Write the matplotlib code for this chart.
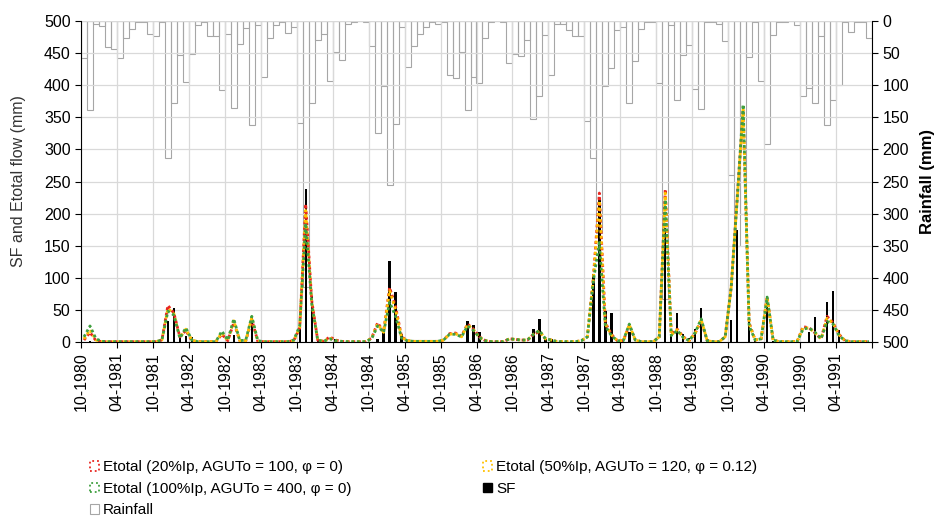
import numpy as np
import matplotlib.pyplot as plt
from matplotlib.patches import Patch

plt.rcParams["font.family"] = ["Liberation Sans", "DejaVu Sans"]

# monthly series, Oct-1980 .. Sep-1991 (one row = one Oct-Sep year)
rainfall = [
    57, 138, 5, 8, 41, 44, 58, 27, 12, 1, 1, 21,
    23, 1, 214, 127, 53, 95, 51, 6, 2, 23, 23, 108,
    21, 136, 36, 11, 162, 6, 87, 27, 7, 1, 19, 9,
    159, 414, 127, 30, 21, 94, 49, 60, 5, 1, 0, 1,
    39, 175, 102, 255, 160, 9, 71, 39, 21, 9, 2, 5,
    2, 84, 89, 48, 138, 87, 96, 27, 1, 0, 1, 66,
    51, 54, 29, 153, 117, 22, 84, 5, 4, 14, 23, 23,
    156, 214, 330, 102, 73, 14, 10, 128, 62, 12, 1, 1,
    97, 433, 6, 123, 53, 38, 106, 137, 2, 1, 4, 31,
    240, 350, 300, 56, 1, 94, 191, 22, 1, 1, 0, 6,
    117, 105, 128, 24, 162, 123, 100, 1, 17, 1, 1, 27,
]

sf = [
    0, 2, 0, 0, 0, 0, 0, 0, 0, 0, 0, 0,
    0, 0, 32, 53, 6, 10, 8, 0, 0, 0, 0, 0,
    0, 11, 0, 0, 40, 0, 0, 0, 0, 0, 0, 0,
    21, 239, 72, 3, 0, 0, 4, 0, 0, 0, 0, 0,
    0, 4, 21, 126, 78, 12, 2, 0, 0, 0, 0, 0,
    0, 0, 0, 0, 33, 26, 15, 0, 0, 0, 0, 0,
    0, 0, 0, 21, 36, 5, 5, 0, 0, 0, 0, 0,
    0, 106, 224, 48, 45, 0, 0, 16, 0, 0, 0, 0,
    0, 177, 9, 45, 12, 6, 21, 53, 7, 0, 0, 0,
    34, 174, 0, 37, 3, 0, 71, 2, 0, 0, 0, 0,
    0, 15, 39, 0, 62, 79, 19, 0, 0, 0, 0, 0,
]

etotal_20 = [
    3, 15, 2, 0.5, 0.5, 0.5, 0.5, 0.5, 0.5, 0.5, 0.5, 0.5,
    0.5, 3, 57, 45, 8, 18, 2, 0.5, 0.5, 0.5, 0.5, 12,
    2, 30, 2, 2, 35, 1, 0.5, 0.5, 0.5, 0.5, 0.5, 2,
    22, 215, 65, 3, 1, 8, 3, 1, 0.5, 0.5, 0.5, 0.5,
    6, 30, 16, 85, 55, 8, 2, 1, 1, 1, 1, 1,
    3, 13, 14, 9, 28, 20, 8, 2, 0.5, 0.5, 0.5, 5,
    4, 3, 3, 12, 16, 5, 3, 0.5, 0.5, 0.5, 0.5, 2,
    8, 100, 232, 30, 12, 2, 2, 26, 3, 0.5, 0.5, 0.5,
    8, 238, 12, 20, 8, 2, 14, 33, 2, 0.5, 0.5, 8,
    85, 225, 360, 30, 3, 5, 70, 3, 0.5, 0.5, 0.5, 0.5,
    24, 22, 14, 5, 40, 30, 12, 2, 0.5, 0.5, 0.5, 0.5,
]

etotal_50 = [
    5, 19, 3, 0.5, 0.5, 0.5, 0.5, 0.5, 0.5, 0.5, 0.5, 0.5,
    0.5, 3, 52, 44, 7, 20, 3, 0.5, 0.5, 0.5, 0.5, 14,
    2, 33, 2, 2, 38, 1, 0.5, 0.5, 0.5, 0.5, 0.5, 2,
    23, 205, 62, 3, 1, 6, 2, 1, 0.5, 0.5, 0.5, 0.5,
    6, 28, 15, 80, 50, 7, 2, 1, 1, 1, 1, 1,
    3, 12, 13, 8, 27, 19, 7, 2, 0.5, 0.5, 0.5, 5,
    4, 3, 3, 12, 17, 5, 3, 0.5, 0.5, 0.5, 0.5, 2,
    8, 98, 220, 28, 11, 2, 2, 27, 3, 0.5, 0.5, 0.5,
    8, 232, 11, 19, 7, 2, 14, 35, 2, 0.5, 0.5, 8,
    85, 222, 362, 28, 3, 5, 70, 3, 0.5, 0.5, 0.5, 0.5,
    22, 22, 14, 5, 37, 29, 11, 2, 0.5, 0.5, 0.5, 0.5,
]

etotal_100 = [
    8, 25, 5, 1, 0.5, 0.5, 0.5, 0.5, 0.5, 0.5, 0.5, 0.5,
    0.5, 3, 48, 42, 6, 22, 3, 0.5, 0.5, 0.5, 0.5, 17,
    3, 36, 2, 3, 40, 2, 0.5, 0.5, 0.5, 0.5, 0.5, 3,
    25, 185, 60, 3, 1, 5, 2, 1, 0.5, 0.5, 0.5, 0.5,
    5, 25, 15, 62, 40, 6, 2, 1, 1, 1, 1, 1,
    3, 12, 12, 8, 25, 18, 7, 2, 0.5, 0.5, 0.5, 5,
    4, 3, 3, 12, 18, 5, 3, 0.5, 0.5, 0.5, 0.5, 2,
    8, 95, 155, 25, 10, 2, 2, 28, 3, 0.5, 0.5, 0.5,
    8, 222, 10, 18, 7, 2, 15, 36, 2, 0.5, 0.5, 8,
    85, 220, 370, 25, 3, 5, 70, 3, 0.5, 0.5, 0.5, 0.5,
    20, 22, 15, 5, 32, 28, 10, 2, 0.5, 0.5, 0.5, 0.5,
]

tick_labels = [f"{m:02d}-{y}" for y in range(1980, 1992) for m in (4, 10)][1:-1]

labels = {
    "e20": "Etotal (20%Ip, AGUTo = 100, φ = 0)",
    "e50": "Etotal (50%Ip, AGUTo = 120, φ = 0.12)",
    "e100": "Etotal (100%Ip, AGUTo = 400, φ = 0)",
    "sf": "SF",
    "rain": "Rainfall",
}

c_red, c_orange, c_green = "#e8251f", "#ffc000", "#3f9f3f"
grid_c = "#d9d9d9"

x = np.arange(len(rainfall))

fig = plt.figure(figsize=(9.38, 5.25), dpi=100)
ax = fig.add_axes([81 / 938, 1 - 342 / 525, 791 / 938, 321 / 525])

ax.set_xlim(-0.5, len(x) - 0.5)
ax.set_ylim(0, 500)
ax.set_yticks(np.arange(0, 501, 50))
ax.set_xticks(np.arange(-0.5, len(x), 6))
ax.set_xticklabels(tick_labels + [""], rotation=90)
ax.grid(True, color=grid_c, linewidth=0.9)
ax.set_axisbelow(True)
for s in ["top", "right"]:
    ax.spines[s].set_visible(False)
ax.tick_params(labelsize=11.5, length=4, color="black")
ax.set_ylabel("SF and Etotal flow (mm)", fontsize=11.5, color="#333333", labelpad=13)

ax.bar(x, sf, width=0.4, color="black", zorder=4)
ls = (0, (1, 1))
ax.plot(x, etotal_20, color=c_red, lw=2, ls=ls, zorder=5)
ax.plot(x, etotal_50, color=c_orange, lw=2, ls=ls, zorder=5)
ax.plot(x, etotal_100, color=c_green, lw=2, ls=ls, zorder=6)

ax2 = ax.twinx()
ax2.set_zorder(ax.get_zorder() - 1)
ax.patch.set_visible(False)
ax2.set_ylim(500, 0)
ax2.set_yticks(np.arange(0, 501, 50))
ax2.bar(x, rainfall, width=1.0, facecolor="none", edgecolor="#a6a6a6", linewidth=0.8)
for s in ["top", "left", "bottom"]:
    ax2.spines[s].set_visible(False)
ax2.tick_params(labelsize=11.5, length=4)
ax2.set_ylabel("Rainfall (mm)", fontsize=12, fontweight="bold", labelpad=8)

handles = [
    Patch(facecolor="none", edgecolor=c_red, linestyle=":", linewidth=1.3),
    Patch(facecolor="none", edgecolor=c_green, linestyle=":", linewidth=1.3),
    Patch(facecolor="white", edgecolor="#a6a6a6", linewidth=0.8),
    Patch(facecolor="none", edgecolor=c_orange, linestyle=":", linewidth=1.3),
    Patch(facecolor="black", edgecolor="black"),
]
names = [labels["e20"], labels["e100"], labels["rain"], labels["e50"], labels["sf"]]
fig.legend(handles, names, ncol=2, loc="upper left", bbox_to_anchor=(84 / 938, 1 - 454 / 525),
           frameon=False, fontsize=11, handlelength=0.6, handleheight=0.6,
           handletextpad=0.25, labelspacing=0.5, columnspacing=8.6, borderaxespad=0)

fig.savefig("out.png", dpi=100)
